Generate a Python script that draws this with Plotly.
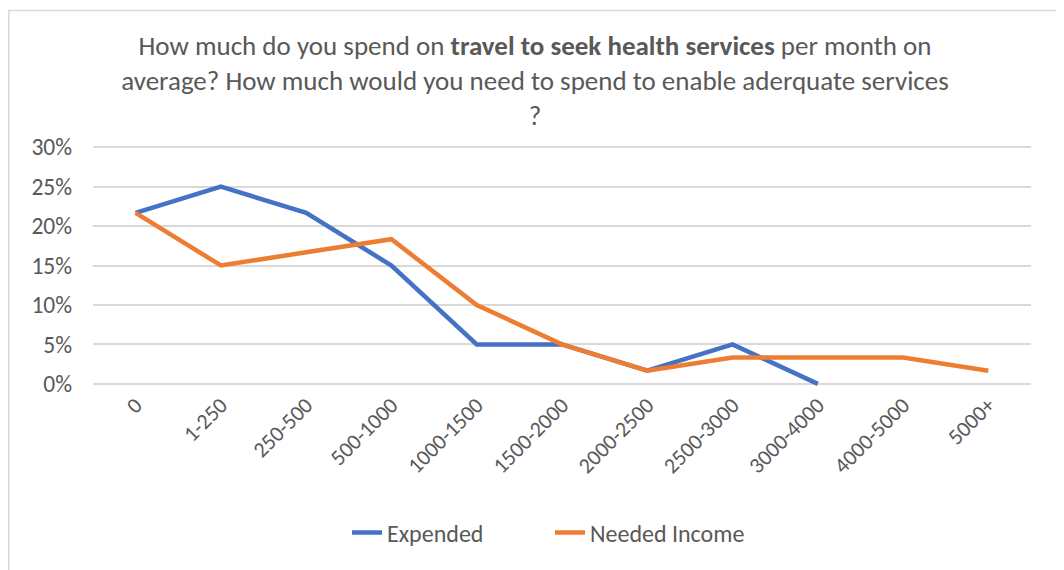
import plotly.graph_objects as go

categories = ["0", "1-250", "250-500", "500-1000", "1000-1500", "1500-2000",
              "2000-2500", "2500-3000", "3000-4000", "4000-5000", "5000+"]
expended = [0.2167, 0.25, 0.2167, 0.15, 0.05, 0.05, 0.0167, 0.05, 0.0, None, None]
needed_income = [0.2167, 0.15, 0.1667, 0.1833, 0.10, 0.05, 0.0167, 0.0333, 0.0333, 0.0333, 0.0167]

OFF = 8  # default page body margin
W, H = 1064 - OFF, 570 - OFF
L, R = 93 - OFF, 1031 - OFF
TOP, BOT = 144 - OFF, 387 - OFF
pw, ph = R - L, BOT - TOP

def px(x):
    return (x - OFF - L) / pw

def py(y):
    return (BOT - (y - OFF)) / ph

FONT = "Carlito, Calibri, Lato, sans-serif"
TXT = "#595959"

fig = go.Figure()
fig.add_trace(go.Scatter(x=categories, y=expended, mode="lines", name="Expended",
                         line=dict(color="#4472C4", width=4.5), connectgaps=False))
fig.add_trace(go.Scatter(x=categories, y=needed_income, mode="lines", name="Needed Income",
                         line=dict(color="#ED7D31", width=4.5)))

fig.update_layout(
    width=W, height=H,
    margin=dict(l=L, r=W - R, t=TOP, b=H - BOT, autoexpand=False),
    paper_bgcolor="white", plot_bgcolor="white",
    font=dict(family=FONT, color=TXT),
    title=dict(
        text="How much do you spend on <b>travel to seek health services</b> per month on<br>"
             "average? How much would you need to spend to enable aderquate services<br>?",
        x=(535 - OFF) / W, xanchor="center", xref="container",
        y=1 - (55 - OFF) / H, yanchor="top", yref="container",
        font=dict(size=27, color=TXT, family=FONT),
    ),
    xaxis=dict(
        type="category", range=[-0.5, 10.5], tickangle=-45, showgrid=False, showline=False,
        ticks="", tickfont=dict(size=22, color=TXT), zeroline=False,
    ),
    yaxis=dict(
        range=[-0.004, 0.304], dtick=0.05, tick0=0, tickformat=".0%",
        showgrid=True, gridcolor="#d9d9d9", gridwidth=1.5, zeroline=False,
        showline=False, ticks="", tickfont=dict(size=23.5, color=TXT),
        ticklabelstandoff=20,
    ),
    legend=dict(
        orientation="h", x=px(347), xanchor="left", y=py(533), yanchor="middle",
        font=dict(size=24, color=TXT), traceorder="normal",
        entrywidth=158, entrywidthmode="pixels",
    ),
    showlegend=True,
)

fig.add_shape(type="rect", xref="paper", yref="paper",
              x0=px(OFF + 0.8), x1=px(1075), y0=py(590), y1=py(10.5),
              line=dict(color="#d9d9d9", width=1.5), fillcolor="rgba(0,0,0,0)", layer="below")

fig.write_html("out.html")
